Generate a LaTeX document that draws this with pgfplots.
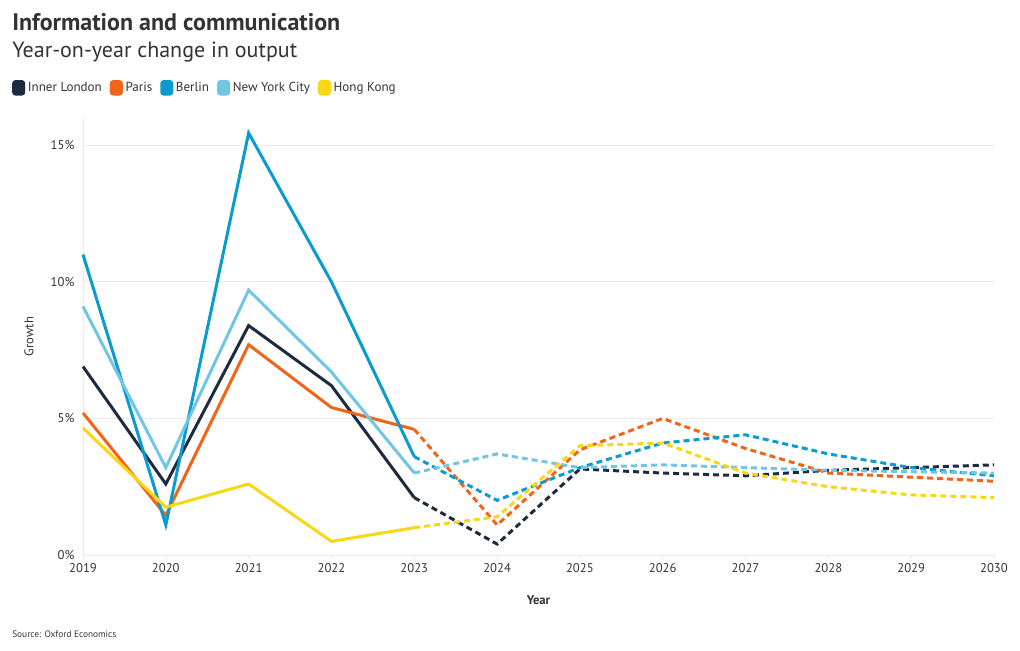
\documentclass[border=0pt]{standalone}
\usepackage{fontspec}
\setmainfont{PT Sans}
\usepackage{pgfplots}
\pgfplotsset{compat=1.18}
\definecolor{ilon}{HTML}{1E2A3E}
\definecolor{par}{HTML}{F26419}
\definecolor{ber}{HTML}{0A9BCF}
\definecolor{nyc}{HTML}{71C6E6}
\definecolor{hk}{HTML}{F8D714}
\definecolor{txt}{HTML}{333333}
\definecolor{gridc}{HTML}{EBEBEB}

\pgfplotsset{
  sol/.style={line width=2.25pt, solid, line join=miter},
  das/.style={line width=2.25pt, dash pattern=on 4.5pt off 3pt, forget plot},
}

\begin{document}
\begin{tikzpicture}
\useasboundingbox (0,0) rectangle (765pt,487.5pt);
\node[anchor=base west, inner sep=0, text=txt, font=\bfseries\fontsize{18}{20}\selectfont] at (9pt,464.25pt) {Information and communication};
\node[anchor=base west, inner sep=0, text=txt, font=\fontsize{16.5}{20}\selectfont] at (9pt,444pt) {Year-on-year change in output};
\node[anchor=base west, inner sep=0, text=txt, font=\fontsize{7}{8}\selectfont] at (9pt,9.75pt) {Source: Oxford Economics};
\begin{axis}[
  at={(62.25pt,71.25pt)}, anchor=south west,
  scale only axis, width=683.25pt, height=327.75pt,
  xmin=2019, xmax=2030, ymin=0, ymax=16,
  axis lines*=left,
  axis line style={draw=gridc, line width=0.6pt},
  xtick={2019,2020,...,2030},
  ytick={0,5,10,15},
  tick align=outside,
  major tick length=3pt,
  xtick style={draw=gridc, line width=0.6pt},
  ytick style={draw=none},
  ymajorgrids, grid style={draw=gridc, line width=0.6pt},
  /pgf/number format/1000 sep={},
  /pgf/number format/assume math mode=true,
  yticklabel={\pgfmathprintnumber{\tick}\%},
  ticklabel style={font=\fontsize{9.5}{10}\selectfont, text=txt},
  xlabel={\bfseries Year}, ylabel={Growth},
  xlabel style={font=\fontsize{9.5}{10}\selectfont, text=txt, yshift=-10pt},
  ylabel style={font=\fontsize{9.5}{10}\selectfont, text=txt, yshift=6pt},
  clip=false,
  legend columns=-1,
  legend style={at={(-0.078,1.069)}, anchor=west, draw=none, fill=none,
    font=\fontsize{9.8}{10}\selectfont, text=txt, inner sep=0pt,
    /tikz/every even column/.append style={column sep=4pt}},
  legend image code/.code={\fill[solid, rounded corners=1.5pt] (0pt,-4.7pt) rectangle (7.5pt,4.7pt);},
]
% Inner London
\addplot[sol, color=ilon] coordinates {(2019,6.9)(2020,2.6)(2021,8.4)(2022,6.2)(2023,2.1)};
\addplot[das, color=ilon] coordinates {(2023,2.1)(2024,0.4)(2025,3.15)(2026,3.0)(2027,2.9)(2028,3.1)(2029,3.2)(2030,3.3)};
% Paris
\addplot[sol, color=par] coordinates {(2019,5.2)(2020,1.45)(2021,7.7)(2022,5.4)(2023,4.6)};
\addplot[das, color=par] coordinates {(2023,4.6)(2024,1.1)(2025,3.85)(2026,5.0)(2027,3.9)(2028,3.0)(2029,2.85)(2030,2.7)};
% Berlin
\addplot[sol, color=ber] coordinates {(2019,11.0)(2020,1.1)(2021,15.45)(2022,10.0)(2023,3.6)};
\addplot[das, color=ber] coordinates {(2023,3.6)(2024,2.0)(2025,3.2)(2026,4.1)(2027,4.4)(2028,3.7)(2029,3.2)(2030,2.9)};
% New York City
\addplot[sol, color=nyc] coordinates {(2019,9.1)(2020,3.2)(2021,9.7)(2022,6.7)(2023,3.0)};
\addplot[das, color=nyc] coordinates {(2023,3.0)(2024,3.7)(2025,3.2)(2026,3.3)(2027,3.2)(2028,3.1)(2029,3.05)(2030,3.0)};
% Hong Kong
\addplot[sol, color=hk] coordinates {(2019,4.65)(2020,1.75)(2021,2.6)(2022,0.5)(2023,1.0)};
\addplot[das, color=hk] coordinates {(2023,1.0)(2024,1.4)(2025,4.0)(2026,4.1)(2027,3.0)(2028,2.5)(2029,2.2)(2030,2.1)};
\legend{Inner London, Paris, Berlin, New York City, Hong Kong}
\end{axis}
\end{tikzpicture}
\end{document}
